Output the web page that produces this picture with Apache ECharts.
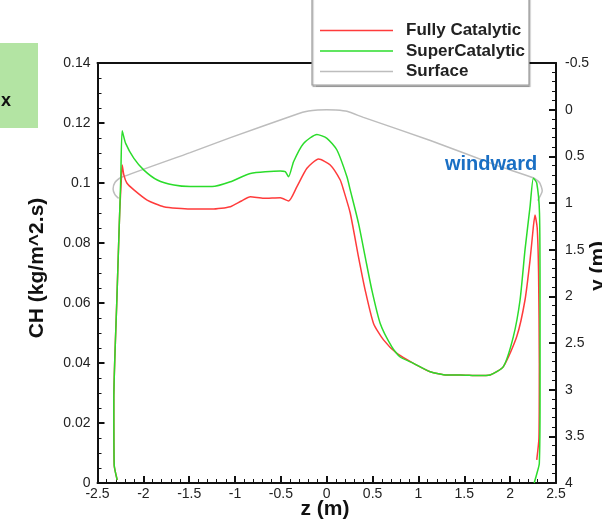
<!DOCTYPE html>
<html>
<head>
<meta charset="utf-8">
<style>
  html, body { margin: 0; padding: 0; background: #ffffff; }
  #chart { width: 602px; height: 523px; }
</style>
<script src="https://cdn.jsdelivr.net/npm/echarts@6/dist/echarts.min.js"></script>
</head>
<body>
<div id="chart"></div>
<script>
// Heat flux coefficient CH [kg/(m^2.s)] along the body contour, as [z (m), CH]
const fullyCatalytic = [
  [-2.285, 0.0010], [-2.318, 0.0060], [-2.322, 0.0280], [-2.289, 0.0610],
  [-2.268, 0.0810], [-2.257, 0.0910], [-2.242, 0.1000], [-2.231, 0.1060],
  [-2.213, 0.1027], [-2.180, 0.1000], [-2.103, 0.0977], [-1.959, 0.0943],
  [-1.778, 0.0921], [-1.489, 0.0913], [-1.250, 0.0913], [-1.051, 0.0921],
  [-0.930, 0.0940], [-0.833, 0.0954], [-0.688, 0.0949], [-0.507, 0.0951],
  [-0.416, 0.0940], [-0.325, 0.0988], [-0.216, 0.1049], [-0.089, 0.1080],
  [0.038, 0.1060], [0.147, 0.1010], [0.183, 0.0977], [0.256, 0.0900],
  [0.346, 0.0754], [0.419, 0.0643], [0.510, 0.0532], [0.619, 0.0477],
  [0.765, 0.0432], [0.946, 0.0399], [1.128, 0.0371], [1.309, 0.0360],
  [1.454, 0.0360], [1.650, 0.0358], [1.781, 0.0360], [1.926, 0.0388],
  [2.072, 0.0488], [2.162, 0.0610], [2.217, 0.0743], [2.253, 0.0854],
  [2.271, 0.0893], [2.295, 0.0850], [2.310, 0.0700], [2.318, 0.0400],
  [2.314, 0.0150], [2.290, 0.0077]
];

const superCatalytic = [
  [-2.285, 0.0010], [-2.318, 0.0060], [-2.322, 0.0280], [-2.289, 0.0610],
  [-2.268, 0.0810], [-2.257, 0.0910], [-2.246, 0.1020], [-2.231, 0.1174],
  [-2.193, 0.1132], [-2.103, 0.1082], [-1.994, 0.1043], [-1.848, 0.1010],
  [-1.667, 0.0993], [-1.489, 0.0988], [-1.250, 0.0988], [-1.051, 0.1004],
  [-0.833, 0.1032], [-0.507, 0.1040], [-0.453, 0.1038], [-0.416, 0.1021],
  [-0.362, 0.1071], [-0.253, 0.1132], [-0.107, 0.1162], [0.002, 0.1149],
  [0.111, 0.1110], [0.220, 0.1021], [0.256, 0.0977], [0.346, 0.0866],
  [0.419, 0.0754], [0.492, 0.0643], [0.583, 0.0532], [0.710, 0.0454],
  [0.800, 0.0420], [0.946, 0.0399], [1.128, 0.0371], [1.309, 0.0360],
  [1.454, 0.0360], [1.650, 0.0358], [1.781, 0.0360], [1.926, 0.0388],
  [2.035, 0.0488], [2.108, 0.0610], [2.162, 0.0777], [2.217, 0.0921],
  [2.253, 0.1016], [2.290, 0.1000], [2.320, 0.0900], [2.326, 0.0600],
  [2.326, 0.0300], [2.318, 0.0065], [2.290, 0.0030], [2.262, 0.0000]
];

// Body surface profile, as [z (m), y (m)] on the right-hand axis
const surface = [
  [-2.27, 0.95], [-2.31, 0.91], [-2.33, 0.85], [-2.31, 0.78], [-2.25, 0.73],
  [-1.49, 0.46], [-1.05, 0.30], [-0.32, 0.046], [-0.20, 0.015], [-0.10, 0.003],
  [0.00, 0.000], [0.10, 0.004], [0.22, 0.018], [0.40, 0.083], [1.13, 0.33],
  [1.86, 0.60], [2.25, 0.73], [2.32, 0.78], [2.35, 0.87], [2.30, 0.975]
];

const seriesNames = ['Fully Catalytic', 'SuperCatalytic', 'Surface'];
const seriesColors = ['#ff3b3b', '#2bdc2b', '#bdbdbd'];
const axisTitles = { x: 'z (m)', yLeft: 'CH (kg/m^2.s)', yRight: 'y (m)' };

const FONT = 'Liberation Sans, Arial, Helvetica, sans-serif';
const AXIS_BLACK = '#111111';
const TITLE_FONT = 'bold 21px ' + FONT;

const chart = echarts.init(document.getElementById('chart'), null, { renderer: 'canvas' });

function axisBase() {
  return {
    axisLine: { show: true, onZero: false, lineStyle: { color: AXIS_BLACK, width: 2 } },
    axisTick: { show: true, inside: true, length: 7, lineStyle: { color: AXIS_BLACK, width: 2 } },
    minorTick: { show: true, length: 4, lineStyle: { color: AXIS_BLACK, width: 1 } },
    splitLine: { show: false },
    axisLabel: { color: '#222', fontFamily: FONT, fontSize: 14 }
  };
}

const xBottom = Object.assign(axisBase(), {
  type: 'value', position: 'bottom', min: -2.5, max: 2.5, interval: 0.5
});
xBottom.minorTick.splitNumber = 5;
xBottom.axisLabel.margin = 4;

const xTop = {
  type: 'value', position: 'top', min: -2.5, max: 2.5,
  axisLine: { show: true, onZero: false, lineStyle: { color: AXIS_BLACK, width: 2 } },
  axisTick: { show: false }, axisLabel: { show: false }, splitLine: { show: false }
};

const yLeft = Object.assign(axisBase(), {
  type: 'value', position: 'left', min: 0, max: 0.14, interval: 0.02
});
yLeft.minorTick.splitNumber = 4;
yLeft.axisLabel.margin = 7;

const yRight = Object.assign(axisBase(), {
  type: 'value', position: 'right', min: -0.5, max: 4, interval: 0.5, inverse: true
});
yRight.minorTick.splitNumber = 5;
yRight.axisLabel.margin = 9;

chart.setOption({
  animation: false,
  backgroundColor: '#ffffff',
  grid: { left: 97.5, right: 46, top: 63, bottom: 40, containLabel: false, outerBoundsMode: 'none' },
  xAxis: [xBottom, xTop],
  yAxis: [yLeft, yRight],
  legend: {
    data: seriesNames,
    orient: 'vertical',
    left: 315, top: 17,
    itemWidth: 73, itemHeight: 14, itemGap: 3.5,
    icon: 'path://M0,0 L100,0 L100,2 L0,2 Z',
    z: 20,
    textStyle: { color: '#222', fontFamily: FONT, fontSize: 17, fontWeight: 'bold', padding: [0, 0, 0, 8] }
  },
  graphic: [
    {
      type: 'rect', z: 10,
      shape: { x: 312, y: -6, width: 217, height: 91 },
      style: { fill: '#ffffff', stroke: '#9a9a9a', lineWidth: 1.2,
               shadowColor: 'rgba(0,0,0,0.25)', shadowOffsetX: 1, shadowOffsetY: 1.5, shadowBlur: 1 }
    },
    {
      type: 'rect', z: 10,
      shape: { x: 0, y: 43, width: 38, height: 85 },
      style: { fill: '#b3e4a3' }
    },
    {
      type: 'text', z: 11, x: 1, y: 92,
      style: { text: 'x', fill: '#111', font: 'bold 18px ' + FONT }
    },
    {
      type: 'text', z: 11, x: 445, y: 154,
      style: { text: 'windward', fill: '#1a6fc4', font: 'bold 20px ' + FONT }
    },
    {
      type: 'text', z: 11, x: 325, y: 509,
      style: { text: axisTitles.x, fill: '#111', font: TITLE_FONT, align: 'center', verticalAlign: 'middle' }
    },
    {
      type: 'text', z: 11, x: 37, y: 268, rotation: Math.PI / 2,
      style: { text: axisTitles.yLeft, fill: '#111', font: TITLE_FONT, align: 'center', verticalAlign: 'middle' }
    },
    {
      type: 'text', z: 11, x: 598, y: 266, rotation: Math.PI / 2,
      style: { text: axisTitles.yRight, fill: '#111', font: TITLE_FONT, align: 'center', verticalAlign: 'middle' }
    }
  ],
  series: [
    {
      name: 'Surface', type: 'line', xAxisIndex: 0, yAxisIndex: 1,
      data: surface, symbol: 'none', smooth: 0.2, z: 2,
      lineStyle: { color: seriesColors[2], width: 1.5 }, itemStyle: { color: seriesColors[2] }
    },
    {
      name: 'Fully Catalytic', type: 'line', xAxisIndex: 0, yAxisIndex: 0,
      data: fullyCatalytic, symbol: 'none', smooth: 0.2, z: 3,
      lineStyle: { color: seriesColors[0], width: 1.5 }, itemStyle: { color: seriesColors[0] }
    },
    {
      name: 'SuperCatalytic', type: 'line', xAxisIndex: 0, yAxisIndex: 0,
      data: superCatalytic, symbol: 'none', smooth: 0.2, z: 4,
      lineStyle: { color: seriesColors[1], width: 1.5 }, itemStyle: { color: seriesColors[1] }
    }
  ]
});
</script>
</body>
</html>
